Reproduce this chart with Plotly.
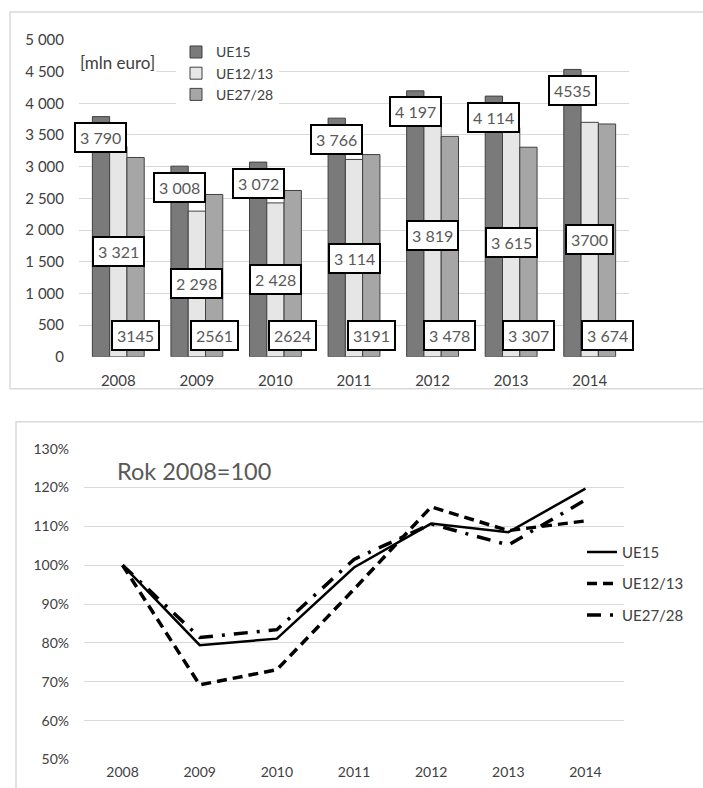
import plotly.graph_objects as go

years = ["2008", "2009", "2010", "2011", "2012", "2013", "2014"]

ue15 = [3790, 3008, 3072, 3766, 4197, 4114, 4535]
ue1213 = [3321, 2298, 2428, 3114, 3819, 3615, 3700]
ue2728 = [3145, 2561, 2624, 3191, 3478, 3307, 3674]

ue15_lbl = ["3 790", "3 008", "3 072", "3 766", "4 197", "4 114", "4535"]
ue1213_lbl = ["3 321", "2 298", "2 428", "3 114", "3 819", "3 615", "3700"]
ue2728_lbl = ["3145", "2561", "2624", "3191", "3 478", "3 307", "3 674"]

# index, 2008 = 100
idx15 = [100, 79.4, 81.1, 99.4, 110.7, 108.5, 119.7]
idx1213 = [100, 69.2, 73.1, 93.8, 115.0, 108.9, 111.4]
idx2728 = [100, 81.4, 83.4, 101.5, 110.6, 105.2, 116.8]

bar_ticks = [0, 500, 1000, 1500, 2000, 2500, 3000, 3500, 4000, 4500, 5000]
bar_tick_text = ["0", "500", "1 000", "1 500", "2 000", "2 500", "3 000",
                 "3 500", "4 000", "4 500", "5 000"]
pct_ticks = [50, 60, 70, 80, 90, 100, 110, 120, 130]
pct_tick_text = ["50%", "60%", "70%", "80%", "90%", "100%", "110%", "120%", "130%"]

W, H = 703, 788
FONT = "Lato"
TXT = "#404040"
LBL = "#595959"
GRID = "#d9d9d9"


def px(v):
    return v / W


def fy(v):
    # picture row -> figure row (the photographed page sits slightly lower/compressed)
    return (v - 9) / 0.978


def py(v):
    return 1 - fy(v) / H


fig = go.Figure()

bar_series = [("UE15", ue15, "#7a7a7a"), ("UE12/13", ue1213, "#e6e6e6"),
              ("UE27/28", ue2728, "#a6a6a6")]
for name, vals, col in bar_series:
    fig.add_trace(go.Bar(
        x=years, y=vals, name=name, marker=dict(color=col, line=dict(color="#404040", width=1)),
        xaxis="x", yaxis="y", legend="legend", hoverinfo="skip"))

line_series = [("UE15", idx15, "solid", 2.5), ("UE12/13", idx1213, "10px,6px", 3.5),
               ("UE27/28", idx2728, "14px,9px,3px,9px", 3.5)]
for name, vals, dash, w in line_series:
    fig.add_trace(go.Scatter(
        x=years, y=vals, name=name, mode="lines", legendgroup=name,
        line=dict(color="black", width=w, dash=dash),
        xaxis="x2", yaxis="y2", legend="legend2", hoverinfo="skip"))

annotations = []
bar_shift = 17.3
box = dict(bgcolor="white", bordercolor="black", borderwidth=2, borderpad=4,
           font=dict(family=FONT, size=16, color=LBL), showarrow=False, xref="x", yref="y")
for i, yr in enumerate(years):
    annotations.append(dict(x=i, y=ue15[i], text=ue15_lbl[i], xshift=-bar_shift,
                            yshift=-21, yanchor="middle", **box))
    annotations.append(dict(x=i, y=ue1213[i] / 2, text=ue1213_lbl[i], xshift=0,
                            yanchor="middle", **box))
    annotations.append(dict(x=i, y=0, text=ue2728_lbl[i], xshift=bar_shift,
                            yshift=6, yanchor="bottom", **box))

annotations.append(dict(x=px(78), y=py(62), xref="paper", yref="paper", text="[mln euro]",
                        xanchor="left", yanchor="middle", showarrow=False, bgcolor="white",
                        font=dict(family=FONT, size=17, color=TXT)))
annotations.append(dict(x=px(115), y=py(470), xref="paper", yref="paper", text="Rok 2008=100",
                        xanchor="left", yanchor="middle", showarrow=False,
                        font=dict(family=FONT, size=23.5, color=LBL)))

shapes = [
    dict(type="rect", xref="paper", yref="paper", x0=px(10), x1=1.05, y0=py(388), y1=py(11),
         line=dict(color=GRID, width=1.5), layer="below"),
    dict(type="rect", xref="paper", yref="paper", x0=px(16), x1=1.05, y0=-0.05, y1=py(421),
         line=dict(color=GRID, width=1.5), layer="below"),
]

fig.update_layout(
    width=W, height=H, margin=dict(l=0, r=0, t=0, b=0),
    paper_bgcolor="white", plot_bgcolor="white",
    font=dict(family=FONT, size=15, color=TXT),
    barmode="group", bargap=0.34, bargroupgap=0,
    xaxis=dict(type="category", categoryorder="array", categoryarray=years,
               range=[-0.5, 6.5], autorange=False, domain=[px(79), px(629)], anchor="y",
               showgrid=False, showline=False, ticks="", ticklabelstandoff=13,
               tickfont=dict(size=15, color=TXT)),
    yaxis=dict(domain=[py(356), py(39)], anchor="x", range=[0, 5000], autorange=False,
               tickvals=bar_ticks, ticktext=bar_tick_text, showgrid=True, gridcolor=GRID,
               gridwidth=1, zeroline=False, showline=False, ticks="", ticklabelstandoff=14,
               tickfont=dict(size=15, color=TXT)),
    xaxis2=dict(type="category", categoryorder="array", categoryarray=years,
                range=[-0.5, 6.5], autorange=False, domain=[px(84), px(624)], anchor="y2",
                showgrid=False, showline=False, ticks="", ticklabelstandoff=3,
                tickfont=dict(size=14, color=TXT)),
    yaxis2=dict(domain=[1 - 767 / H, py(448)], anchor="x2", range=[50, 130], autorange=False,
                tickvals=pct_ticks, ticktext=pct_tick_text, showgrid=True, gridcolor=GRID,
                gridwidth=1, zeroline=False, showline=False, ticks="", ticklabelstandoff=14,
                tickfont=dict(size=14, color=TXT)),
    legend=dict(x=px(176), y=1 - 27 / H, xanchor="left", yanchor="top", bgcolor="white",
                font=dict(family=FONT, size=14, color=TXT), traceorder="normal",
                itemclick=False, itemdoubleclick=False),
    legend2=dict(x=px(582), y=1 - 538 / H, xanchor="left", yanchor="top",
                 bgcolor="rgba(0,0,0,0)", font=dict(family=FONT, size=15, color=TXT),
                 traceorder="grouped", tracegroupgap=9, itemclick=False,
                 itemdoubleclick=False),
    annotations=annotations, shapes=shapes, showlegend=True,
)

fig.write_html("out.html", config={"displayModeBar": False},
               post_script="document.body.style.margin='0';document.body.style.overflow='hidden';")
